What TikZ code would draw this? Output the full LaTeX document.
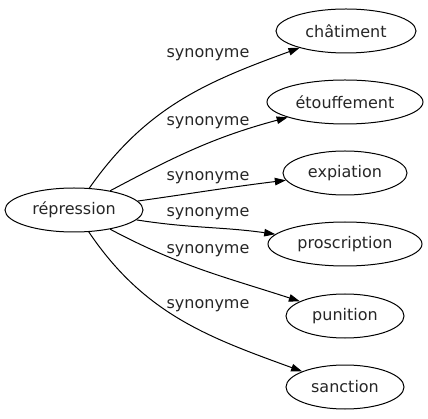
\documentclass[tikz,border=0pt]{standalone}
\usepackage{fontspec}
\setmainfont{DejaVu Sans}
\usetikzlibrary{shapes.geometric,arrows.meta}
\tikzset{
  word/.style={draw, line width=1pt, ellipse, inner sep=0pt, minimum height=44pt, font=\fontsize{16}{19}\selectfont, text=black!85},
  lbl/.style={inner sep=0pt, font=\fontsize{16}{19}\selectfont, text=black!85},
  syn/.style={line width=1pt, -{Triangle[length=11pt,width=7.5pt]}}
}
\begin{document}
\begin{tikzpicture}[x=1pt,y=1pt]
\useasboundingbox (0,0) rectangle (428,-419);
\node[word, minimum width=138pt] (rep) at (74,-210) {répression};
\node[word, minimum width=140pt] (chat) at (346,-31) {châtiment};
\node[word, minimum width=156pt] (etou) at (345,-102) {étouffement};
\node[word, minimum width=124pt] (expi) at (345,-173) {expiation};
\node[word, minimum width=154pt] (pros) at (345,-244) {proscription};
\node[word, minimum width=118pt] (puni) at (345,-316) {punition};
\node[word, minimum width=118pt] (sanc) at (345,-387) {sanction};
\node[lbl] (l1) at (208,-55) {synonyme};
\node[lbl] (l2) at (208,-123) {synonyme};
\node[lbl] (l3) at (208,-178) {synonyme};
\node[lbl] (l4) at (208,-214) {synonyme};
\node[lbl] (l5) at (208,-251) {synonyme};
\node[lbl] (l6) at (208,-306) {synonyme};
\draw[syn] (rep) to[out=55,in=200] (chat);
\draw[syn] (rep) to[out=28,in=195] (etou);
\draw[syn] (rep) to[out=8,in=187] (expi);
\draw[syn] (rep) to[out=-9,in=172] (pros);
\draw[syn] (rep) to[out=-28,in=162] (puni);
\draw[syn] (rep) to[out=-56,in=160] (sanc);
\end{tikzpicture}
\end{document}
